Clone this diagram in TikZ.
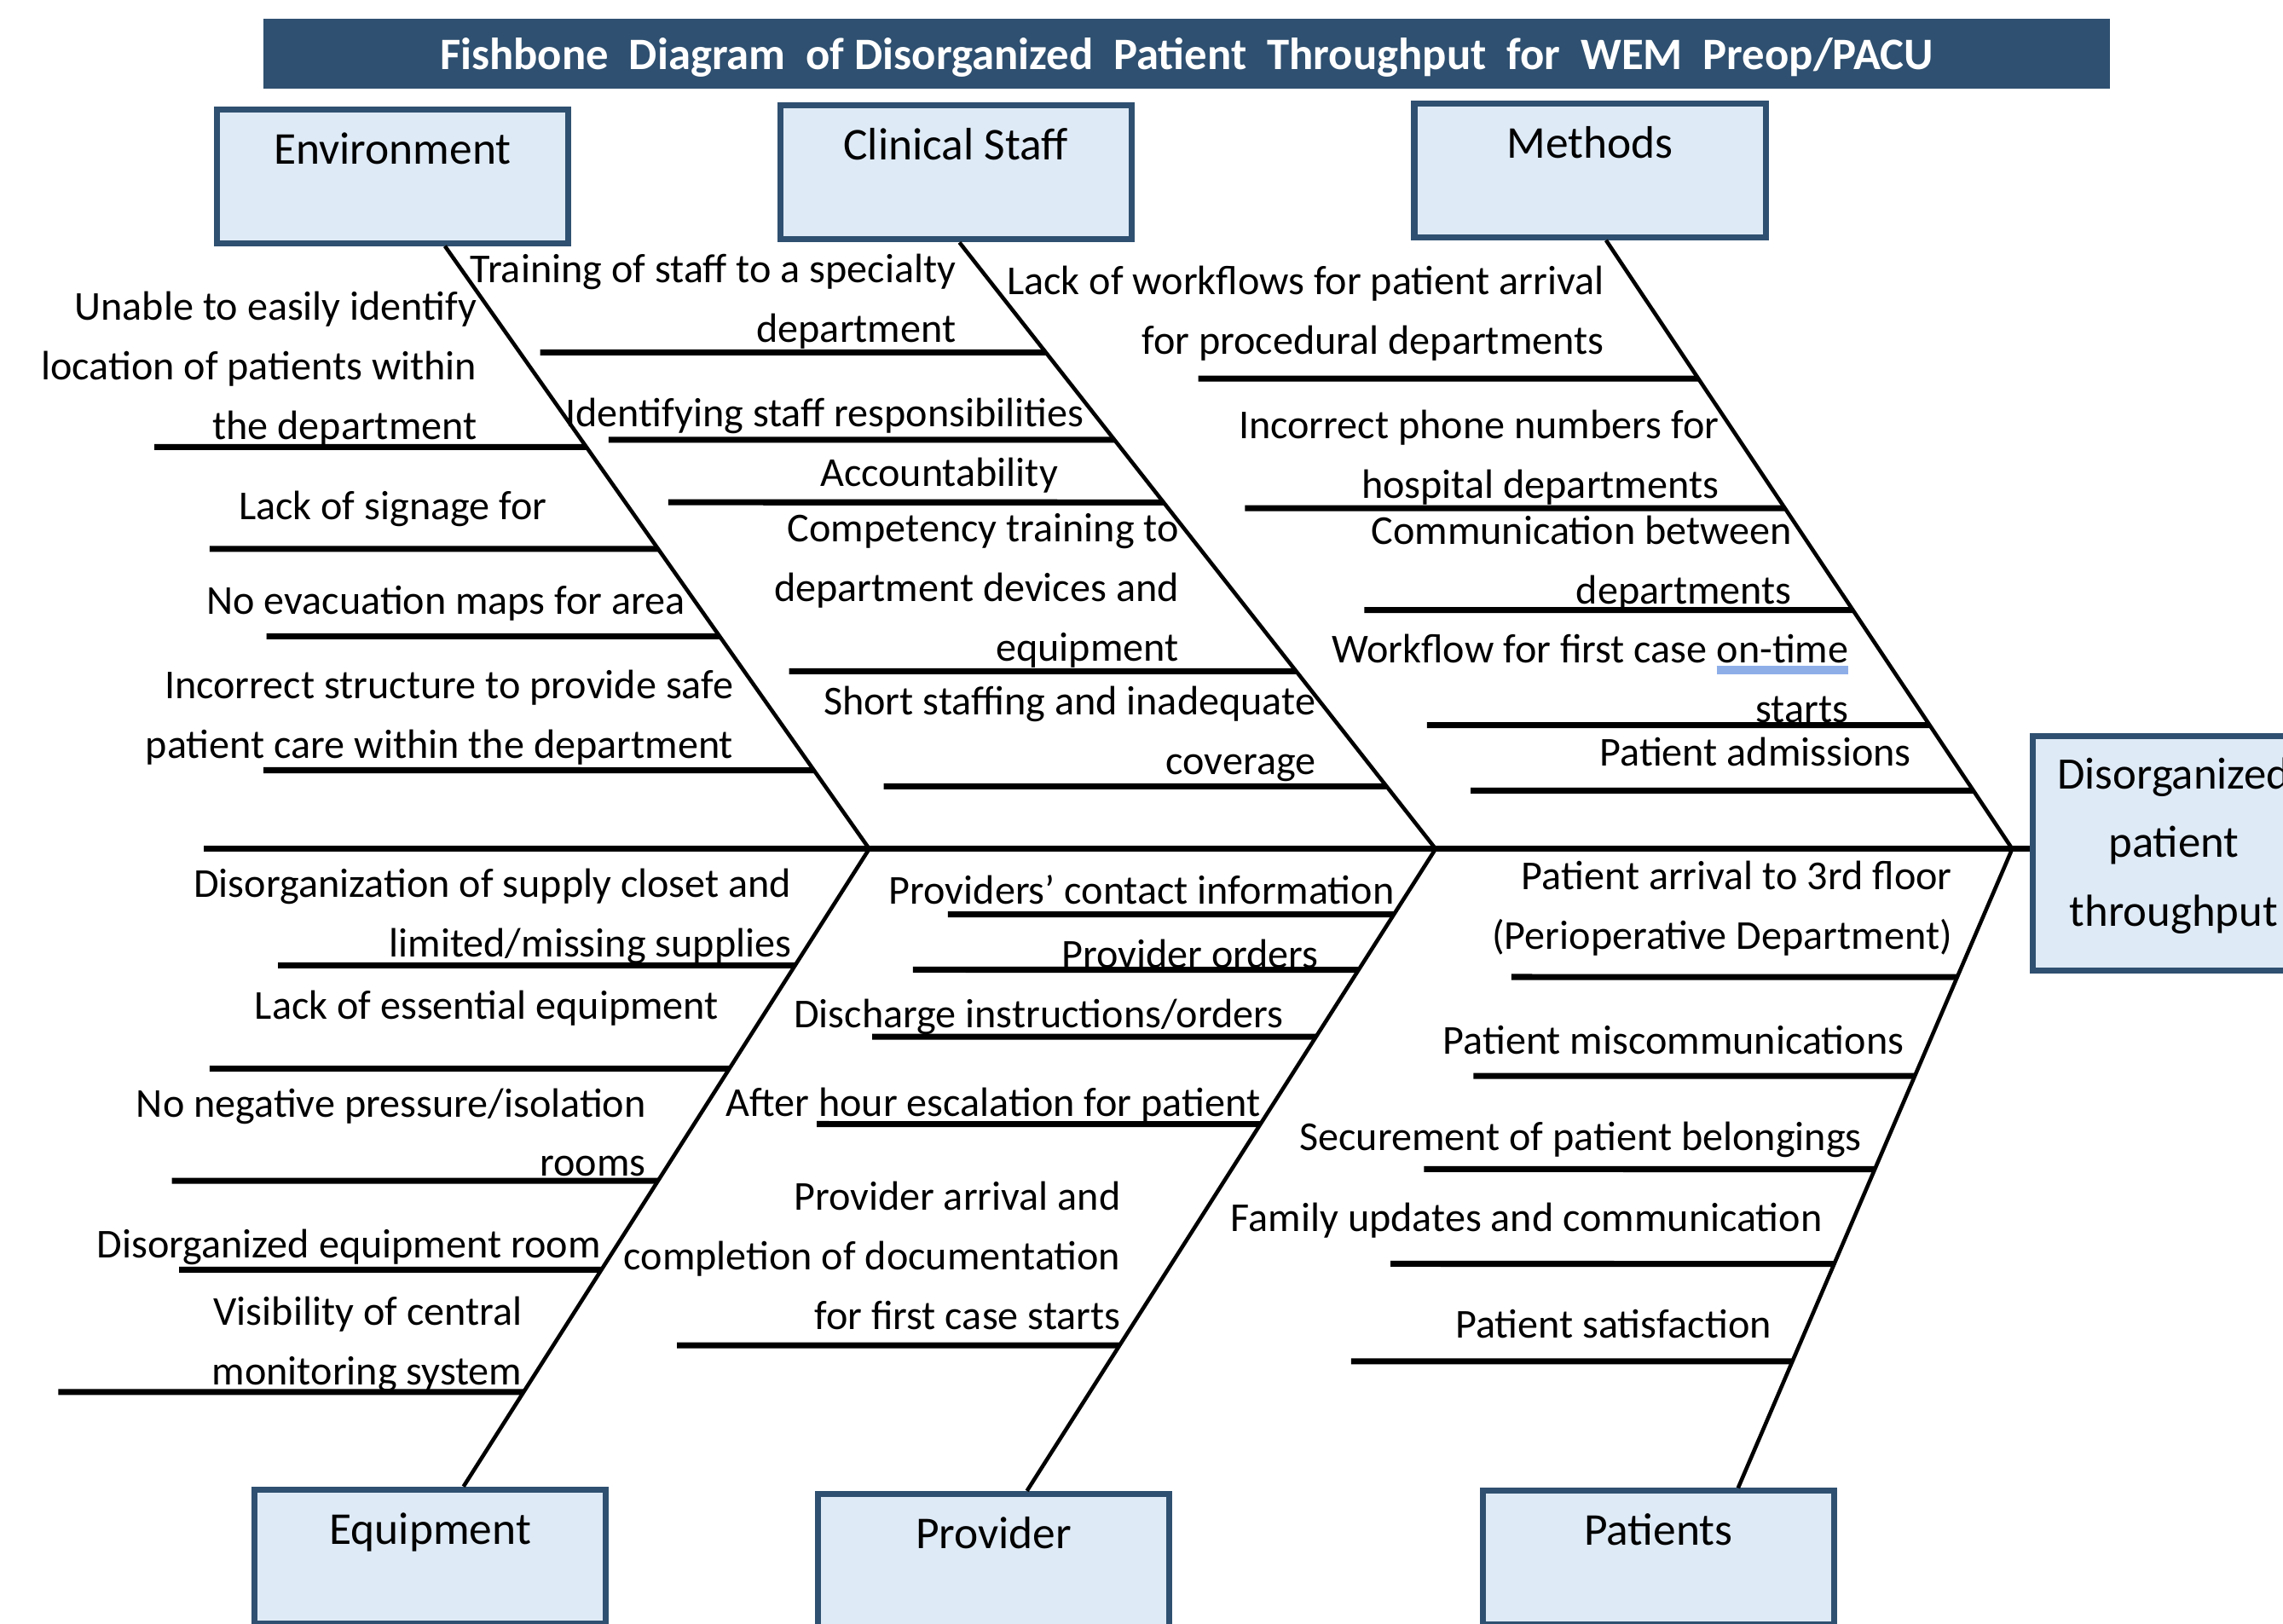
\documentclass[tikz,border=0pt]{standalone}
\usepackage{fontspec}
\setmainfont{Carlito}
\usepackage{tikz}
\usepackage{xcolor}
\usetikzlibrary{calc}
\definecolor{fbnavy}{HTML}{2F5070}
\definecolor{fbpale}{HTML}{DEEAF6}
\definecolor{fbspell}{HTML}{8EAEE8}

\newcommand{\spellmark}[1]{\setbox0\hbox{#1}\rlap{\color{fbspell}\rule[-3.8pt]{\wd0}{2.6pt}}\box0}

\tikzset{
	titlebar/.style={fill=fbnavy, text=white, minimum width=21.66cm, inner sep=0pt, text height=0.598cm, text depth=0.222cm, font=\fontsize{15}{17}\selectfont\bfseries},
	catbox/.style={draw=fbnavy, line width=2pt, fill=fbpale, minimum width=4.12cm, inner sep=0pt, text height=0.64cm, text depth=0.93cm, font=\fontsize{15.2}{18}\selectfont},
	effectbox/.style={draw=fbnavy, line width=2pt, fill=fbpale, minimum width=3.30cm, minimum height=2.75cm, align=center, inner sep=0pt, text depth=7.5pt, font=\fontsize{15}{22.8}\selectfont},
	cause/.style={anchor=base east, align=right, inner sep=0pt, font=\fontsize{13.7}{19.9}\selectfont},
	spine/.style={line width=1.9pt},
	bone/.style={line width=1.3pt},
	rib/.style={line width=2pt}
}

\begin{document}
\begin{tikzpicture}[x=0.01708cm, y=-0.01708cm]
		\useasboundingbox (0,0) rectangle (1568,1115);
		\clip (0,0) rectangle (1568,1115);
		\node[titlebar] (title) at (815,37) {Fishbone~ Diagram~ of Disorganized~ Patient~ Throughput~ for~ WEM~ Preop/PACU};
		\node[catbox] (env) at (269.5,121) {Environment};
		\node[catbox] (staff) at (656.5,118.5) {Clinical Staff};
		\node[catbox] (meth) at (1092,117) {Methods};
		\node[catbox] (equip) at (295.5,1069) {Equipment};
		\node[catbox] (prov) at (682.5,1072) {Provider};
		\node[catbox] (pat) at (1139,1070) {Patients};
		\node[effectbox] (effect) at (1493,586) {Disorganized\\patient\\throughput};
		\coordinate (tail) at (140,583);
		\coordinate (j1) at (597,583);
		\coordinate (j2) at (986,583);
		\coordinate (j3) at (1382,583);
		\coordinate (envfoot) at ($(env.south west)!0.647!(env.south east)$);
		\coordinate (stafffoot) at ($(staff.south west)!0.51!(staff.south east)$);
		\coordinate (methfoot) at ($(meth.south west)!0.545!(meth.south east)$);
		\coordinate (equiptop) at ($(equip.north west)!0.593!(equip.north east)$);
		\coordinate (provtop) at ($(prov.north west)!0.593!(prov.north east)$);
		\coordinate (pattop) at ($(pat.north west)!0.723!(pat.north east)$);
		\draw[spine] (tail) -- (tail -| effect.west);
		\draw[bone] (envfoot) -- (j1);
		\draw[bone] (stafffoot) -- (j2);
		\draw[bone] (methfoot) -- (j3);
		\draw[bone] (j1) -- (equiptop);
		\draw[bone] (j2) -- (provtop);
		\draw[bone] (j3) -- (pattop);

		\node[cause] (env1) at (328,302) {Unable to easily identify\\location of patients within\\the department};
		\node[cause] (env2) at (376,357) {Lack of signage for};
		\node[cause] (env3) at (471,422) {No evacuation maps for area};
		\node[cause] (env4) at (504,521) {Incorrect structure to provide safe\\patient care within the department};
		\draw[rib] (106,307) -- (intersection of envfoot--j1 and 106,307--1568,307);
		\draw[rib] (144,377) -- (intersection of envfoot--j1 and 144,377--1568,377);
		\draw[rib] (183,437) -- (intersection of envfoot--j1 and 183,437--1568,437);
		\draw[rib] (181,529) -- (intersection of envfoot--j1 and 181,529--1568,529);

		\node[cause] (staff1) at (657,235) {Training of staff to a specialty\\department};
		\node[cause] (staff2) at (745,293) {Identifying staff responsibilities};
		\node[cause] (staff3) at (727,334) {Accountability};
		\node[cause] (staff4) at (810,454) {Competency training to\\department devices and\\equipment};
		\node[cause] (staff5) at (904,532) {Short staffing and inadequate\\coverage};
		\draw[rib] (371,242) -- (intersection of stafffoot--j2 and 371,242--1568,242);
		\draw[rib] (418,302) -- (intersection of stafffoot--j2 and 418,302--1568,302);
		\draw[rib] (459,345) -- (intersection of stafffoot--j2 and 459,345--1568,345);
		\draw[rib] (542,461) -- (intersection of stafffoot--j2 and 542,461--1568,461);
		\draw[rib] (607,540) -- (intersection of stafffoot--j2 and 607,540--1568,540);

		\node[cause] (meth1) at (1102,243) {Lack of workflows for patient arrival\\for procedural departments};
		\node[cause] (meth2) at (1181,342) {Incorrect phone numbers for\\hospital departments};
		\node[cause] (meth3) at (1231,415) {Communication between\\departments};
		\node[cause] (meth4) at (1270,496) {Workflow for first case \spellmark{on-time}\\starts};
		\node[cause] (meth5) at (1313,526) {Patient admissions};
		\draw[rib] (823,260) -- (intersection of methfoot--j3 and 823,260--1568,260);
		\draw[rib] (855,349) -- (intersection of methfoot--j3 and 855,349--1568,349);
		\draw[rib] (937,419) -- (intersection of methfoot--j3 and 937,419--1568,419);
		\draw[rib] (980,498) -- (intersection of methfoot--j3 and 980,498--1568,498);
		\draw[rib] (1010,543) -- (intersection of methfoot--j3 and 1010,543--1568,543);

		\node[cause] (equip1) at (544,657) {Disorganization of supply closet and\\limited/missing supplies};
		\node[cause] (equip2) at (494,700) {Lack of essential equipment};
		\node[cause] (equip3) at (444,808) {No negative pressure/isolation\\rooms};
		\node[cause] (equip4) at (413,864) {Disorganized equipment room};
		\node[cause] (equip5) at (359,951) {Visibility of central\\monitoring system};
		\draw[rib] (191,663) -- (intersection of j1--equiptop and 191,663--1568,663);
		\draw[rib] (144,734) -- (intersection of j1--equiptop and 144,734--1568,734);
		\draw[rib] (118,811) -- (intersection of j1--equiptop and 118,811--1568,811);
		\draw[rib] (123,872) -- (intersection of j1--equiptop and 123,872--1568,872);
		\draw[rib] (40,956) -- (intersection of j1--equiptop and 40,956--1568,956);

		\node[cause] (prov1) at (958,621) {Providers’ contact information};
		\node[cause] (prov2) at (906,665) {Provider orders};
		\node[cause] (prov3) at (882,706) {Discharge instructions/orders};
		\node[cause] (prov4) at (866,767) {After hour escalation for patient};
		\node[cause] (prov5) at (770,913) {Provider arrival and\\completion of documentation\\for first case starts};
		\draw[rib] (651,628) -- (intersection of j2--provtop and 651,628--1568,628);
		\draw[rib] (627,666) -- (intersection of j2--provtop and 627,666--1568,666);
		\draw[rib] (599,712) -- (intersection of j2--provtop and 599,712--1568,712);
		\draw[rib] (561,772) -- (intersection of j2--provtop and 561,772--1568,772);
		\draw[rib] (465,924) -- (intersection of j2--provtop and 465,924--1568,924);

		\node[cause] (pat1) at (1341,652) {Patient arrival to 3rd floor\\(Perioperative Department)};
		\node[cause] (pat2) at (1308,724) {Patient miscommunications};
		\node[cause] (pat3) at (1279,790) {Securement of patient belongings};
		\node[cause] (pat4) at (1252,846) {Family updates and communication};
		\node[cause] (pat5) at (1217,919) {Patient satisfaction};
		\draw[rib] (1038,671) -- (intersection of j3--pattop and 1038,671--1568,671);
		\draw[rib] (1012,739) -- (intersection of j3--pattop and 1012,739--1568,739);
		\draw[rib] (978,803) -- (intersection of j3--pattop and 978,803--1568,803);
		\draw[rib] (955,868) -- (intersection of j3--pattop and 955,868--1568,868);
		\draw[rib] (928,935) -- (intersection of j3--pattop and 928,935--1568,935);
	\end{tikzpicture}
\end{document}
